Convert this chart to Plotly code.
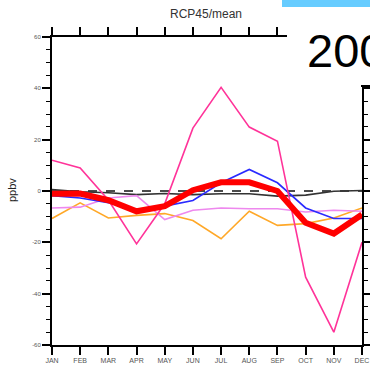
import plotly.graph_objects as go

months = ["JAN", "FEB", "MAR", "APR", "MAY", "JUN", "JUL", "AUG", "SEP", "OCT", "NOV", "DEC"]
x_idx = list(range(12))

black_vals = [0.6, -0.3, -0.7, -1.4, -1.0, -1.4, -1.1, -1.1, -2.0, -1.6, -0.1, 0.2]
orange_vals = [-10.7, -4.6, -10.5, -9.5, -8.8, -11.5, -18.6, -7.9, -13.4, -12.7, -10.5, -6.6]
violet_vals = [-6.6, -6.3, -2.7, -1.8, -11.1, -7.5, -6.6, -6.9, -6.9, -8.2, -7.5, -7.9]
blue_vals = [-1.8, -2.7, -4.6, -7.2, -5.9, -3.7, 3.2, 8.4, 3.2, -6.6, -10.7, -10.7]
pink_vals = [12.0, 9.0, -3.5, -20.6, -5.0, 24.5, 40.4, 24.9, 19.4, -33.6, -55.0, -20.0]
red_vals = [-1.1, -1.0, -3.6, -7.9, -5.9, 0.3, 3.4, 3.4, 0.0, -12.4, -16.6, -9.2]
zero_vals = [0] * 12

y_ticks = [60, 40, 20, 0, -20, -40, -60]

W, H = 370, 367
L, R, T, B = 52, 362, 37, 345


def px(x):
    return (x - L) / (R - L)


def py(y):
    return (B - y) / (B - T)


fig = go.Figure()
fig.add_trace(go.Scatter(x=x_idx, y=zero_vals, mode="lines",
                         line=dict(color="#111111", width=1.3, dash="dash")))
fig.add_trace(go.Scatter(x=x_idx, y=black_vals, mode="lines",
                         line=dict(color="#333333", width=1.6)))
fig.add_trace(go.Scatter(x=x_idx, y=orange_vals, mode="lines",
                         line=dict(color="#FFA828", width=1.6)))
fig.add_trace(go.Scatter(x=x_idx, y=violet_vals, mode="lines",
                         line=dict(color="#EE88EE", width=1.6)))
fig.add_trace(go.Scatter(x=x_idx, y=blue_vals, mode="lines",
                         line=dict(color="#2A2AFF", width=1.6)))
fig.add_trace(go.Scatter(x=x_idx, y=pink_vals, mode="lines",
                         line=dict(color="#FF3399", width=1.6)))
fig.add_trace(go.Scatter(x=x_idx, y=red_vals, mode="lines",
                         line=dict(color="#FF0000", width=6)))

fig.update_layout(
    width=W, height=H,
    margin=dict(l=L, r=W - R, t=T, b=H - B, pad=0, autoexpand=False),
    paper_bgcolor="white", plot_bgcolor="white",
    showlegend=False,
    font=dict(family="Liberation Sans, Arial, sans-serif"),
)
fig.update_xaxes(
    range=[0, 11], tickvals=x_idx, ticktext=months, automargin=False,
    showgrid=False, zeroline=False,
    showline=True, linecolor="black", linewidth=2, mirror="ticks",
    ticks="outside", ticklen=8, tickwidth=1.5, tickcolor="black",
    tickfont=dict(size=7, color="#555555"),
)
fig.update_yaxes(
    range=[-60, 60], tickvals=y_ticks, ticktext=[str(v) for v in y_ticks], automargin=False,
    showgrid=False, zeroline=False,
    showline=True, linecolor="black", linewidth=2, mirror="ticks",
    ticks="outside", ticklen=8, tickwidth=1.5, tickcolor="black",
    tickfont=dict(size=6, color="#555555"),
    minor=dict(ticks="outside", ticklen=4, tickwidth=1.2, tickcolor="black", dtick=5, showgrid=False),
)

shapes = [
    dict(type="rect", xref="paper", yref="paper", x0=px(287), x1=px(372), y0=py(86), y1=py(-2),
         fillcolor="white", line=dict(width=0), layer="above"),
    dict(type="rect", xref="paper", yref="paper", x0=px(282), x1=px(372), y0=py(7), y1=py(-2),
         fillcolor="#66CCFF", line=dict(width=0), layer="above"),
    dict(type="line", xref="paper", yref="paper", x0=px(361), x1=px(372), y0=py(86), y1=py(86),
         line=dict(color="black", width=2), layer="above"),
]
fig.update_layout(shapes=shapes)

fig.add_annotation(text="RCP45/mean", xref="paper", yref="paper", x=px(206), y=py(14),
                   xanchor="center", yanchor="middle", showarrow=False,
                   font=dict(size=12, color="#333333"))
fig.add_annotation(text="ppbv", xref="paper", yref="paper", x=px(12), y=py(190),
                   xanchor="center", yanchor="middle", showarrow=False, textangle=-90,
                   font=dict(size=11, color="#222222"))
fig.add_annotation(text="200", xref="paper", yref="paper", x=px(305), y=py(50),
                   xanchor="left", yanchor="middle", showarrow=False,
                   font=dict(size=47, color="black"))

fig.write_html("out.html")
